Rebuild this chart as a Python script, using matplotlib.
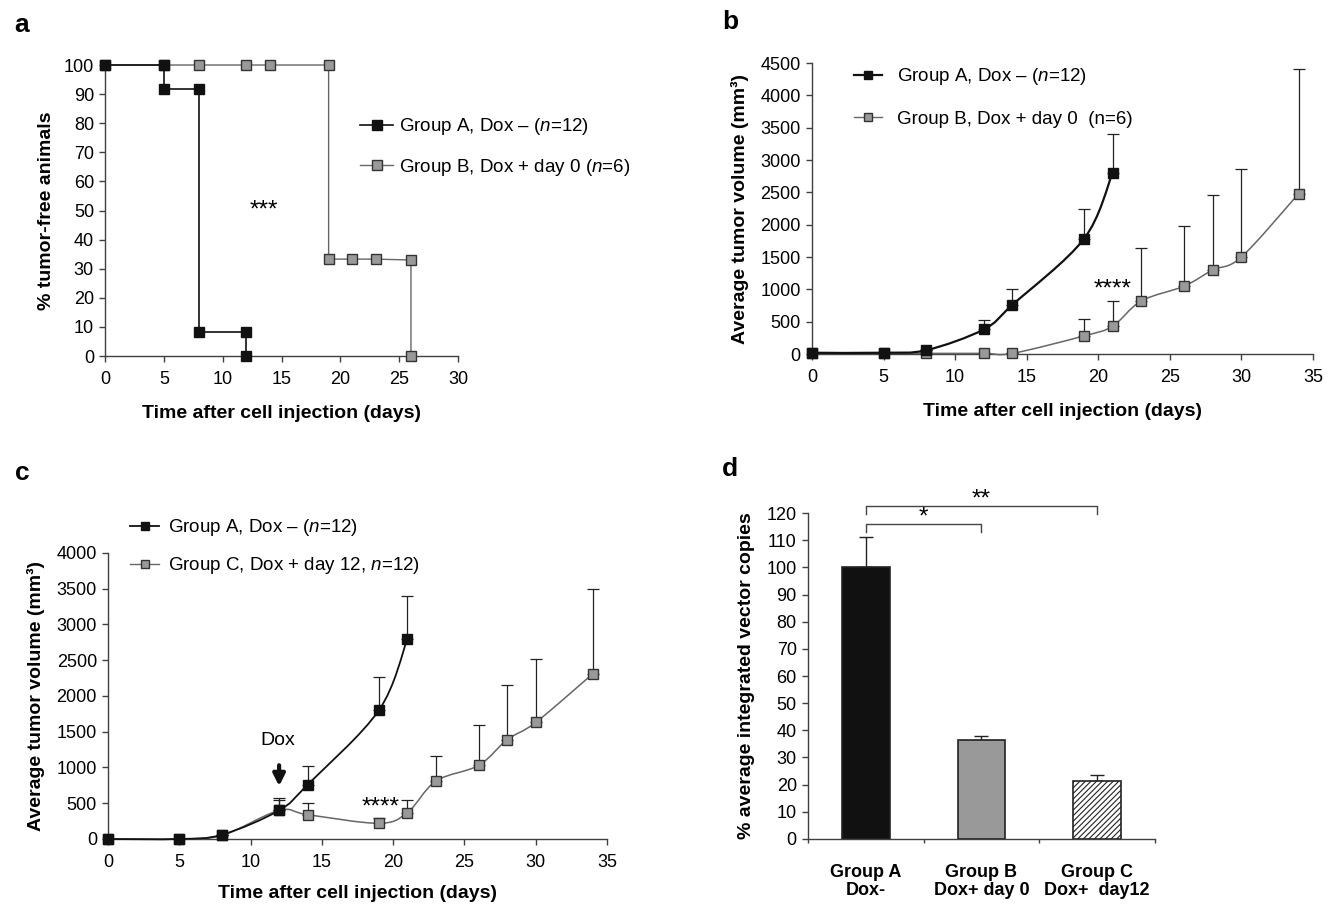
import numpy as np
import matplotlib
matplotlib.use("Agg")
import matplotlib.pyplot as plt
from matplotlib.path import Path
from matplotlib.patches import PathPatch
from matplotlib.lines import Line2D

plt.rcParams["font.family"] = ["Liberation Sans", "DejaVu Sans"]
plt.rcParams["mathtext.fontset"] = "custom"
plt.rcParams["mathtext.rm"] = "Liberation Sans"
plt.rcParams["mathtext.it"] = "Liberation Sans:italic"
plt.rcParams["hatch.color"] = "#555555"
plt.rcParams["hatch.linewidth"] = 0.8

# -----------------------
# DATA
# -----------------------
# panel a: tumor-free animals (step vertices)
a_days_A = [0, 5, 5, 8, 8, 12, 12]
a_free_A = [100, 100, 91.7, 91.7, 8.3, 8.3, 0]
a_days_B = [0, 5, 8, 12, 14, 19, 19, 21, 23, 26, 26]
a_free_B = [100, 100, 100, 100, 100, 100, 33.3, 33.3, 33.3, 33, 0]

# panel b: tumor volume, group A vs group B
b_days_A = [0, 5, 8, 12, 14, 19, 21]
b_vol_A = [20, 20, 60, 380, 760, 1780, 2800]
b_err_A = [20, 20, 60, 520, 1010, 2250, 3400]
b_days_B = [0, 5, 8, 12, 14, 19, 21, 23, 26, 28, 30, 34]
b_vol_B = [10, 10, 10, 10, 10, 280, 430, 820, 1050, 1300, 1500, 2480]
b_err_B = [10, 10, 10, 10, 10, 540, 820, 1640, 1980, 2460, 2860, 4400]

# panel c: tumor volume, group A vs group C
c_days_A = [0, 5, 8, 12, 14, 19, 21]
c_vol_A = [0, 0, 60, 400, 760, 1800, 2800]
c_err_A = [0, 0, 60, 540, 1020, 2260, 3400]
c_days_C = [0, 5, 8, 12, 14, 19, 21, 23, 26, 28, 30, 34]
c_vol_C = [0, 0, 50, 400, 340, 220, 370, 810, 1030, 1390, 1630, 2310]
c_err_C = [0, 0, 50, 580, 510, 290, 540, 1160, 1590, 2160, 2520, 3500]

# panel d: integrated vector copies
d_groups = ["Group A\nDox-", "Group B\nDox+ day 0", "Group C\nDox+  day12"]
d_values = [100, 36.5, 21.5]
d_err = [111, 38, 23.5]

BLACK = "#111111"
GRAY = "#999999"
GLINE = "#666666"
SPINE = "#404040"
STAR = 17.5


def smooth_line(ax, x, y, color, lw, z):
    # Excel-style smoothed line: cubic bezier through the points
    pts = np.column_stack([x, y]).astype(float)
    verts = [pts[0]]
    codes = [Path.MOVETO]
    n = len(pts)
    for i in range(n - 1):
        p0 = pts[max(i - 1, 0)]
        p1 = pts[i]
        p2 = pts[i + 1]
        p3 = pts[min(i + 2, n - 1)]
        c1 = p1 + (p2 - p0) / 6.0
        c2 = p2 - (p3 - p1) / 6.0
        verts += [c1, c2, p2]
        codes += [Path.CURVE4] * 3
    patch = PathPatch(Path(verts, codes), fill=False, edgecolor=color, lw=lw,
                      transform=ax.transData, zorder=z, clip_on=False)
    ax.add_patch(patch)


def style_axes(ax):
    for s in ["top", "right"]:
        ax.spines[s].set_visible(False)
    for s in ["left", "bottom"]:
        ax.spines[s].set_color(SPINE)
        ax.spines[s].set_linewidth(1.0)
    ax.tick_params(direction="out", length=4, width=1, color=SPINE,
                   labelsize=13, pad=4)
    ax.tick_params(axis="x", pad=7)


def upper_err(ax, x, y, top):
    y = np.array(y, dtype=float)
    ax.errorbar(x, y, yerr=[np.zeros(len(y)), np.array(top) - y], fmt="none",
                ecolor="#222222", elinewidth=0.9, capsize=4, capthick=0.9,
                zorder=2)


fig = plt.figure(figsize=(13.35, 9.08), dpi=100)

# -----------------------
# PANEL a
# -----------------------
ax = fig.add_axes([0.0787, 0.6079, 0.2644, 0.3205])
ax.plot(a_days_B, a_free_B, color=GLINE, lw=1, marker="s", ms=7.5,
        mfc=GRAY, mec="#333333", mew=1, zorder=3, clip_on=False)
ax.plot(a_days_A, a_free_A, color=BLACK, lw=1.2, marker="s", ms=7.5,
        mfc=BLACK, mec=BLACK, zorder=4, clip_on=False)
ax.set_xlim(0, 30)
ax.set_ylim(0, 100)
ax.set_xticks(range(0, 31, 5))
ax.set_yticks(range(0, 101, 10))
style_axes(ax)
ax.set_xlabel("Time after cell injection (days)", fontsize=14,
              fontweight="bold", labelpad=12)
ax.set_ylabel("% tumor-free animals", fontsize=14, fontweight="bold",
              labelpad=6)
ax.text(13.5, 50, "***", fontsize=STAR, ha="center", va="center")
h_a = [Line2D([], [], color=BLACK, lw=1.2, marker="s", ms=7.5, mfc=BLACK),
       Line2D([], [], color=GLINE, lw=1, marker="s", ms=7.5, mfc=GRAY,
              mec="#333333")]
ax.legend(h_a, ["Group A, Dox \u2013 ($n$=12)",
                "Group B, Dox + day 0 ($n$=6)"],
          loc="center left", bbox_to_anchor=(0.70, 0.718), frameon=False,
          fontsize=13.5, handlelength=1.8, handletextpad=0.3,
          labelspacing=1.05, borderaxespad=0)

# -----------------------
# PANEL b
# -----------------------
ax = fig.add_axes([0.6082, 0.6101, 0.3753, 0.3205])
upper_err(ax, b_days_B, b_vol_B, b_err_B)
upper_err(ax, b_days_A, b_vol_A, b_err_A)
smooth_line(ax, b_days_B, b_vol_B, GLINE, 1.1, 3)
ax.plot(b_days_B, b_vol_B, ls="none", marker="s", ms=7, mfc=GRAY,
        mec="#333333", mew=1, zorder=4, clip_on=False)
smooth_line(ax, b_days_A, b_vol_A, BLACK, 1.6, 5)
ax.plot(b_days_A, b_vol_A, ls="none", marker="s", ms=7.5, mfc=BLACK,
        mec=BLACK, zorder=6, clip_on=False)
ax.set_xlim(0, 35)
ax.set_ylim(0, 4500)
ax.set_xticks(range(0, 36, 5))
ax.set_yticks(range(0, 4501, 500))
style_axes(ax)
ax.set_xlabel("Time after cell injection (days)", fontsize=14,
              fontweight="bold", labelpad=12)
ax.set_ylabel("Average tumor volume (mm\u00b3)", fontsize=14,
              fontweight="bold", labelpad=8)
ax.text(21, 1000, "****", fontsize=STAR, ha="center", va="center")
h_b = [Line2D([], [], color=BLACK, lw=1.6, marker="s", ms=5.5, mfc=BLACK),
       Line2D([], [], color=GLINE, lw=1, marker="s", ms=5.5, mfc=GRAY,
              mec="#333333")]
ax.legend(h_b, ["Group A, Dox \u2013 ($n$=12)",
                "Group B, Dox + day 0  (n=6)"],
          loc="center left", bbox_to_anchor=(0.068, 0.883), frameon=False,
          fontsize=13.5, handlelength=1.5, handletextpad=0.8,
          labelspacing=1.25, borderaxespad=0)

# -----------------------
# PANEL c
# -----------------------
ax = fig.add_axes([0.0809, 0.076, 0.3738, 0.315])
upper_err(ax, c_days_C, c_vol_C, c_err_C)
upper_err(ax, c_days_A, c_vol_A, c_err_A)
smooth_line(ax, c_days_C, c_vol_C, GLINE, 1.1, 3)
ax.plot(c_days_C, c_vol_C, ls="none", marker="s", ms=7, mfc=GRAY,
        mec="#333333", mew=1, zorder=4, clip_on=False)
smooth_line(ax, c_days_A, c_vol_A, BLACK, 1.3, 5)
ax.plot(c_days_A, c_vol_A, ls="none", marker="s", ms=7.5, mfc=BLACK,
        mec=BLACK, zorder=6, clip_on=False)
ax.set_xlim(0, 35)
ax.set_ylim(0, 4000)
ax.set_xticks(range(0, 36, 5))
ax.set_yticks(range(0, 4001, 500))
style_axes(ax)
ax.set_xlabel("Time after cell injection (days)", fontsize=14,
              fontweight="bold", labelpad=10)
ax.set_ylabel("Average tumor volume (mm\u00b3)", fontsize=14,
              fontweight="bold", labelpad=8)
ax.text(19.1, 440, "****", fontsize=STAR, ha="center", va="center")
ax.text(11.9, 1380, "Dox", fontsize=14, ha="center", va="center")
ax.annotate("", xy=(12, 700), xytext=(12, 1070),
            arrowprops=dict(arrowstyle="-|>,head_width=0.35,head_length=0.7",
                            color=BLACK, lw=3))
h_c = [Line2D([], [], color=BLACK, lw=1.3, marker="s", ms=5.5, mfc=BLACK),
       Line2D([], [], color=GLINE, lw=1, marker="s", ms=5.5, mfc=GRAY,
              mec="#333333")]
ax.legend(h_c, ["Group A, Dox \u2013 ($n$=12)",
                "Group C, Dox + day 12, $n$=12)"],
          loc="center left", bbox_to_anchor=(0.03, 1.022), frameon=False,
          fontsize=13.5, handlelength=1.5, handletextpad=0.5,
          labelspacing=0.9, borderaxespad=0)

# -----------------------
# PANEL d
# -----------------------
ax = fig.add_axes([0.6052, 0.076, 0.26, 0.359])
xpos = np.arange(len(d_groups))
bars = ax.bar(xpos, d_values, width=0.41, color=[BLACK, GRAY, "white"],
              edgecolor="#222222", linewidth=1.2, zorder=3)
bars[2].set_hatch("//////")
ax.errorbar(xpos, d_values, yerr=[np.zeros(3),
            np.array(d_err) - np.array(d_values)], fmt="none",
            ecolor="#222222", elinewidth=1.0, capsize=5, capthick=1.0,
            zorder=2)
ax.set_xlim(-0.5, 2.5)
ax.set_ylim(0, 120)
ax.set_yticks(range(0, 121, 10))
ax.set_xticks([-0.5, 0.5, 1.5, 2.5])
ax.set_xticklabels([])
ax.set_xticks(xpos, minor=True)
ax.set_xticklabels(d_groups, minor=True, fontsize=13, fontweight="bold",
                   linespacing=1.05)
style_axes(ax)
ax.tick_params(axis="x", which="minor", length=0, pad=18)
ax.tick_params(axis="x", which="major", length=3)
ax.set_ylabel("% average integrated vector copies", fontsize=14,
              fontweight="bold", labelpad=8)
# significance brackets
ax.plot([0, 0, 1, 1], [113, 116, 116, 113], color="#444444", lw=1,
        clip_on=False)
ax.plot([0, 0, 2, 2], [119.5, 122.5, 122.5, 119.5], color="#444444", lw=1,
        clip_on=False)
ax.text(0.5, 118.5, "*", fontsize=STAR, ha="center", va="center")
ax.text(1.0, 125, "**", fontsize=STAR, ha="center", va="center")

# panel letters
for lab, x, y in [("a", 0.011, 0.972), ("b", 0.541, 0.976),
                  ("c", 0.011, 0.479), ("d", 0.541, 0.484)]:
    fig.text(x, y, lab, fontsize=19, fontweight="bold", ha="left",
             va="center")

plt.savefig("out.png", dpi=100)
